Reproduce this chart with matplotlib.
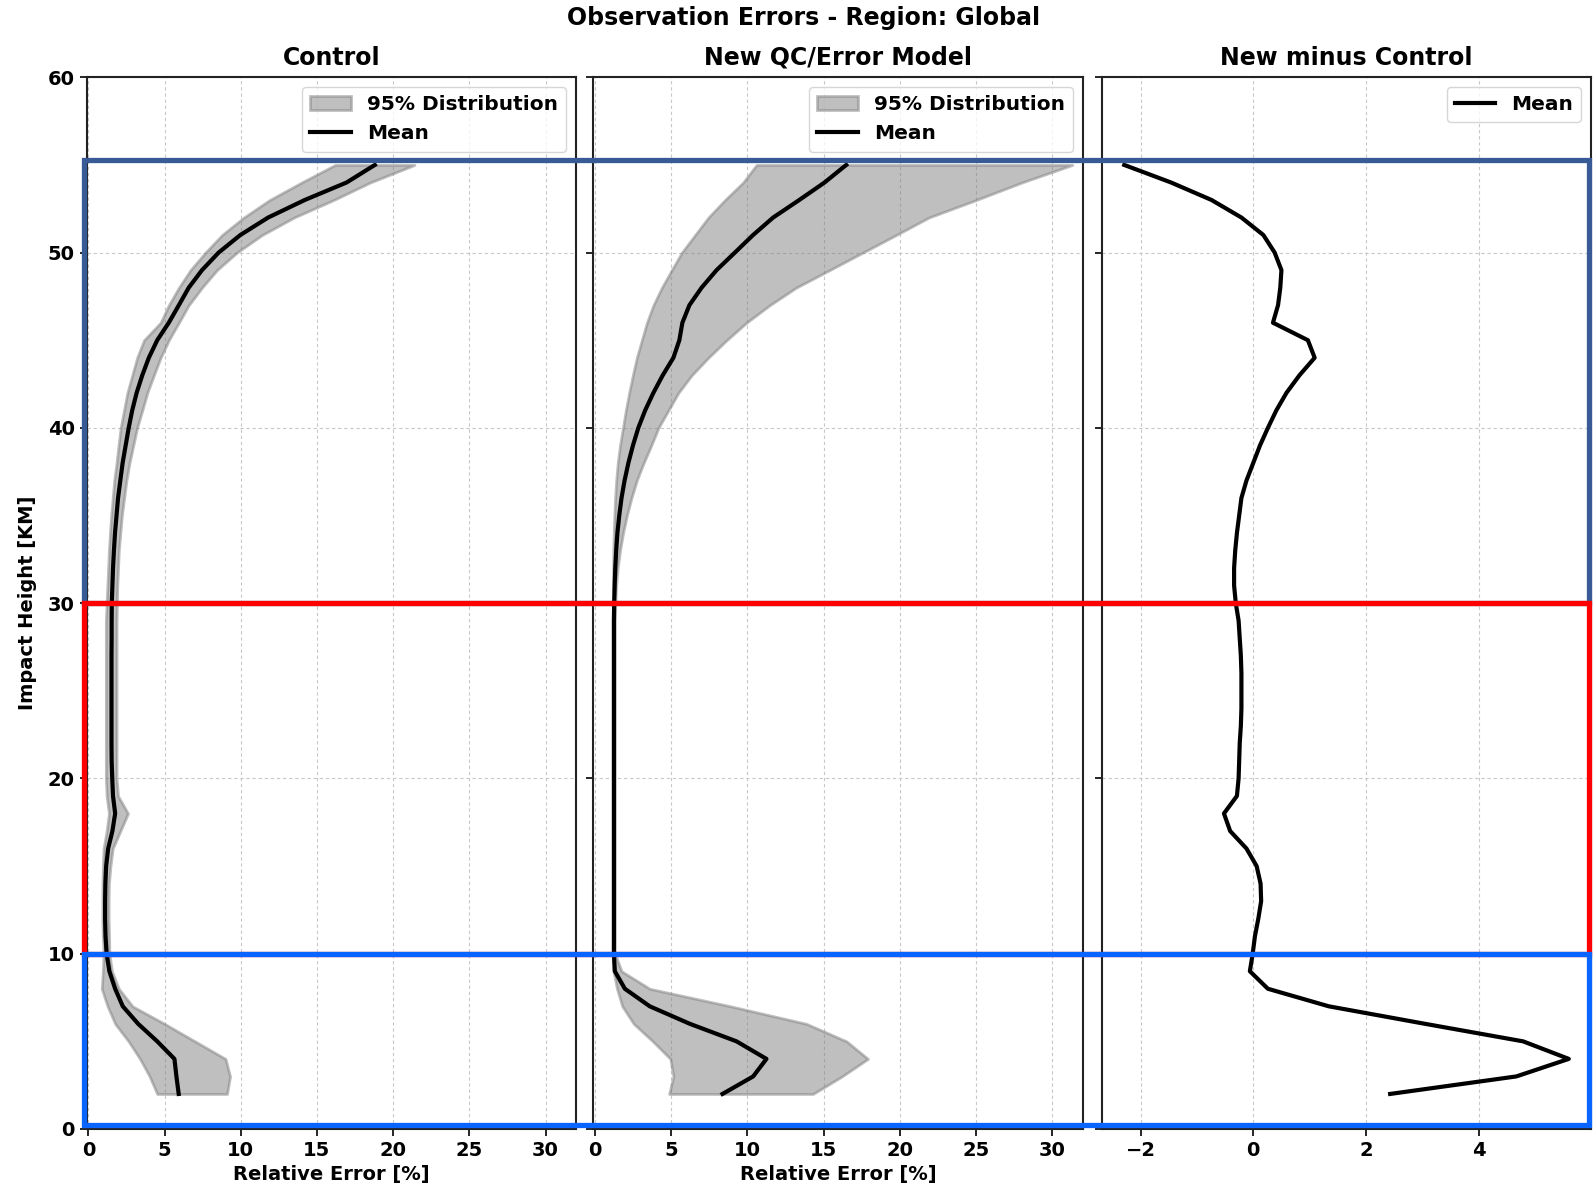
import numpy as np
import matplotlib
matplotlib.use("Agg")
import matplotlib.pyplot as plt
from matplotlib.patches import Rectangle
from matplotlib.transforms import blended_transform_factory

plt.rcParams['font.family'] = ['DejaVu Sans']
plt.rcParams['font.weight'] = 'bold'
plt.rcParams['axes.titleweight'] = 'bold'
plt.rcParams['axes.labelweight'] = 'bold'

# Impact height levels [km]
height = np.arange(2, 56)

# Control: relative error mean and 95% distribution bounds [%]
ctrl_mean = [5.93, 5.78, 5.65, 4.52, 3.27, 2.26, 1.76, 1.38, 1.20, 1.13,
             1.10, 1.10, 1.12, 1.17, 1.30, 1.58, 1.76, 1.62, 1.57, 1.53,
             1.52, 1.52, 1.52, 1.52, 1.52, 1.52, 1.53, 1.53, 1.54, 1.58,
             1.62, 1.68, 1.75, 1.85, 1.95, 2.10, 2.25, 2.45, 2.65, 2.88,
             3.17, 3.54, 3.97, 4.52, 5.28, 5.94, 6.59, 7.46, 8.55, 9.97,
             11.8, 14.2, 16.95, 18.8]
ctrl_lo = [4.52, 4.02, 3.39, 2.64, 1.76, 1.26, 0.88, 0.95, 1.00, 0.95,
           0.92, 0.92, 0.93, 0.95, 1.00, 1.20, 1.35, 1.20, 1.15, 1.15,
           1.15, 1.15, 1.15, 1.15, 1.15, 1.15, 1.15, 1.15, 1.20, 1.25,
           1.30, 1.35, 1.42, 1.50, 1.60, 1.70, 1.85, 1.98, 2.12, 2.34,
           2.56, 2.88, 3.20, 3.65, 4.74, 5.28, 5.94, 6.70, 7.68, 8.77,
           10.2, 11.9, 14.0, 16.2]
ctrl_hi = [9.10, 9.30, 9.00, 7.00, 5.00, 2.90, 2.00, 1.55, 1.38, 1.36,
           1.33, 1.33, 1.35, 1.45, 1.60, 2.10, 2.60, 1.95, 1.85, 1.85,
           1.85, 1.85, 1.85, 1.85, 1.85, 1.85, 1.85, 1.85, 1.87, 1.90,
           1.95, 2.00, 2.10, 2.20, 2.35, 2.50, 2.70, 2.95, 3.20, 3.54,
           3.87, 4.30, 4.74, 5.28, 5.94, 6.59, 7.46, 8.44, 9.75, 11.4,
           13.5, 16.1, 18.5, 21.4]

# New QC/Error Model: relative error mean and 95% distribution bounds [%]
new_mean = [8.37, 10.38, 11.25, 9.29, 6.23, 3.60, 1.97, 1.31, 1.25, 1.25,
            1.25, 1.25, 1.25, 1.25, 1.25, 1.25, 1.25, 1.25, 1.25, 1.25,
            1.25, 1.25, 1.25, 1.25, 1.25, 1.25, 1.25, 1.25, 1.27, 1.30,
            1.34, 1.40, 1.48, 1.60, 1.75, 1.95, 2.20, 2.50, 2.85, 3.30,
            3.84, 4.45, 5.15, 5.54, 5.74, 6.20, 7.00, 7.98, 9.18, 10.37,
            11.69, 13.4, 15.06, 16.48]
new_lo = [4.87, 5.15, 4.95, 3.80, 2.55, 1.80, 1.45, 1.22, 1.18, 1.18,
          1.18, 1.18, 1.18, 1.18, 1.18, 1.18, 1.18, 1.18, 1.18, 1.18,
          1.18, 1.18, 1.18, 1.18, 1.18, 1.18, 1.18, 1.18, 1.18, 1.19,
          1.20, 1.21, 1.24, 1.28, 1.33, 1.40, 1.50, 1.65, 1.84, 2.03,
          2.25, 2.49, 2.75, 3.08, 3.41, 3.84, 4.39, 5.04, 5.70, 6.57,
          7.44, 8.53, 9.72, 10.6]
new_hi = [14.3, 16.2, 17.9, 16.5, 13.87, 8.90, 3.60, 1.75, 1.32, 1.32,
          1.32, 1.32, 1.32, 1.32, 1.32, 1.32, 1.32, 1.32, 1.32, 1.32,
          1.32, 1.32, 1.32, 1.32, 1.32, 1.32, 1.32, 1.32, 1.34, 1.40,
          1.50, 1.65, 1.85, 2.10, 2.40, 2.75, 3.20, 3.70, 4.17, 4.82,
          5.48, 6.35, 7.44, 8.64, 9.94, 11.47, 13.2, 15.39, 17.57, 19.75,
          21.9, 25.0, 28.0, 31.3]

# New minus Control, mean difference [%]
diff_mean = [2.43, 4.67, 5.60, 4.79, 3.05, 1.34, 0.26, -0.06, -0.01, 0.03,
             0.09, 0.14, 0.13, 0.06, -0.12, -0.41, -0.52, -0.29, -0.26, -0.25,
             -0.24, -0.22, -0.21, -0.21, -0.21, -0.22, -0.24, -0.26, -0.31, -0.34,
             -0.34, -0.32, -0.29, -0.25, -0.21, -0.12, 0.00, 0.12, 0.26, 0.41,
             0.59, 0.82, 1.09, 0.97, 0.35, 0.44, 0.48, 0.50, 0.38, 0.18,
             -0.21, -0.74, -1.46, -2.29]

panel_titles = ['Control', 'New QC/Error Model', 'New minus Control']
suptitle = 'Observation Errors - Region: Global'

# Height bands outlined across all panels (top, bottom, colour)
band_edges = [55.3, 30, 10, 0.2]
band_colors = ['#385a96', '#ff0000', '#0a64ff']

W, H = 1595, 1194
fig = plt.figure(figsize=(W / 100, H / 100), dpi=100)


def ax_rect(left, right, top=77.3, bottom=1129):
    return [left / W, 1 - bottom / H, (right - left) / W, (bottom - top) / H]


ax1 = fig.add_axes(ax_rect(86.5, 576))
ax2 = fig.add_axes(ax_rect(593, 1083), sharey=ax1)
ax3 = fig.add_axes(ax_rect(1102, 1591), sharey=ax1)

tick_fs = 14
label_fs = 14
title_fs = 17
grid_kw = dict(color='#c8c8c8', linestyle=(0, (3, 2.5)), linewidth=0.8)

for ax, lo, hi, mean in [(ax1, ctrl_lo, ctrl_hi, ctrl_mean),
                         (ax2, new_lo, new_hi, new_mean)]:
    ax.fill_betweenx(height, lo, hi, color='gray', alpha=0.5, linewidth=2,
                     label='95% Distribution')
    ax.plot(mean, height, color='black', linewidth=3, label='Mean')
    ax.set_xlim(-0.12, 32)
    ax.set_xticks(np.arange(0, 31, 5))
    ax.set_xlabel('Relative Error [%]', fontsize=label_fs)

ax3.plot(diff_mean, height, color='black', linewidth=3, label='Mean')
ax3.set_xticks([-2, 0, 2, 4])

for ax, title in zip([ax1, ax2, ax3], panel_titles):
    ax.set_ylim(0, 60)
    ax.set_yticks(np.arange(0, 61, 10))
    ax.grid(True, **grid_kw)
    ax.set_axisbelow(True)
    ax.set_title(title, fontsize=title_fs, pad=9)
    ax.tick_params(labelsize=tick_fs, direction='out', length=5, width=1.2)
    for s in ax.spines.values():
        s.set_linewidth(1.5)
        s.set_color('#222222')
    for lab in ax.get_xticklabels() + ax.get_yticklabels():
        lab.set_fontweight('bold')
    ax.legend(loc='upper right', prop=dict(size=14.5, weight='bold'))

ax2.tick_params(labelleft=False)
ax3.tick_params(labelleft=False)
ax1.set_ylabel('Impact Height [KM]', fontsize=label_fs, labelpad=8)

fig.text(0.504, 1 - 18.5 / H, suptitle, ha='center', va='center',
         fontsize=title_fs, fontweight='bold')

# Outlined height bands spanning the three panels
trans = blended_transform_factory(fig.transFigure, ax1.transData)
x0, x1 = 83.5 / W, 1589 / W
for top, bottom, color in zip(band_edges[:-1], band_edges[1:], band_colors):
    fig.add_artist(Rectangle((x0, bottom), x1 - x0, top - bottom,
                             transform=trans, fill=False, edgecolor=color,
                             linewidth=3.8, zorder=10, clip_on=False))

fig.savefig('out.png', dpi=100)
